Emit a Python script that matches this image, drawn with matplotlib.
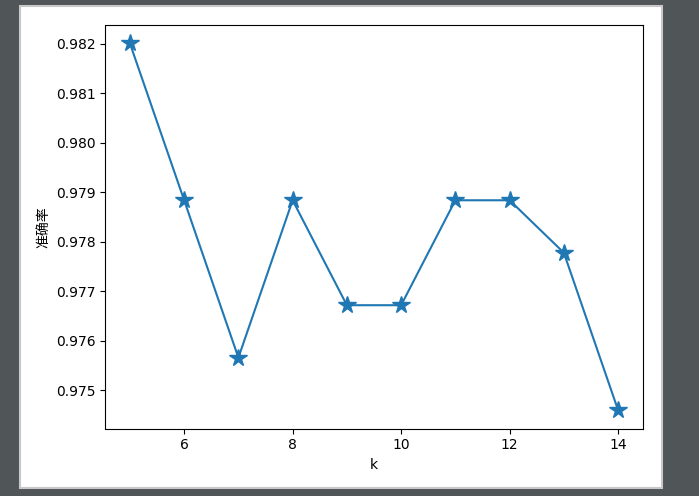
import matplotlib
matplotlib.use("Agg")
import matplotlib.pyplot as plt
from matplotlib.patches import Rectangle

k_values = [5, 6, 7, 8, 9, 10, 11, 12, 13, 14]
accuracy = [0.98201, 0.97884, 0.97566, 0.97884, 0.97672,
            0.97672, 0.97884, 0.97884, 0.97778, 0.97460]

W, H = 699, 496
fig = plt.figure(figsize=(W / 100, H / 100), dpi=100, facecolor="#505558")

# white figure area with thin light border, as in the screenshot
fig.patches.append(Rectangle((20 / W, 1 - 488 / H), 642 / W, 482 / H,
                             transform=fig.transFigure, facecolor="white",
                             edgecolor="#c8c8c8", linewidth=1.5, zorder=-1))

ax = fig.add_axes([105.5 / W, 1 - 428.5 / H, 537 / W, 403.5 / H])
ax.plot(k_values, accuracy, marker="*", markersize=13, color="#1f77b4")
ax.set_xlabel("k")
ax.set_ylabel("准确率", family=["Noto Sans CJK SC", "DejaVu Sans"])

fig.savefig("out.png", dpi=100, facecolor=fig.get_facecolor())
